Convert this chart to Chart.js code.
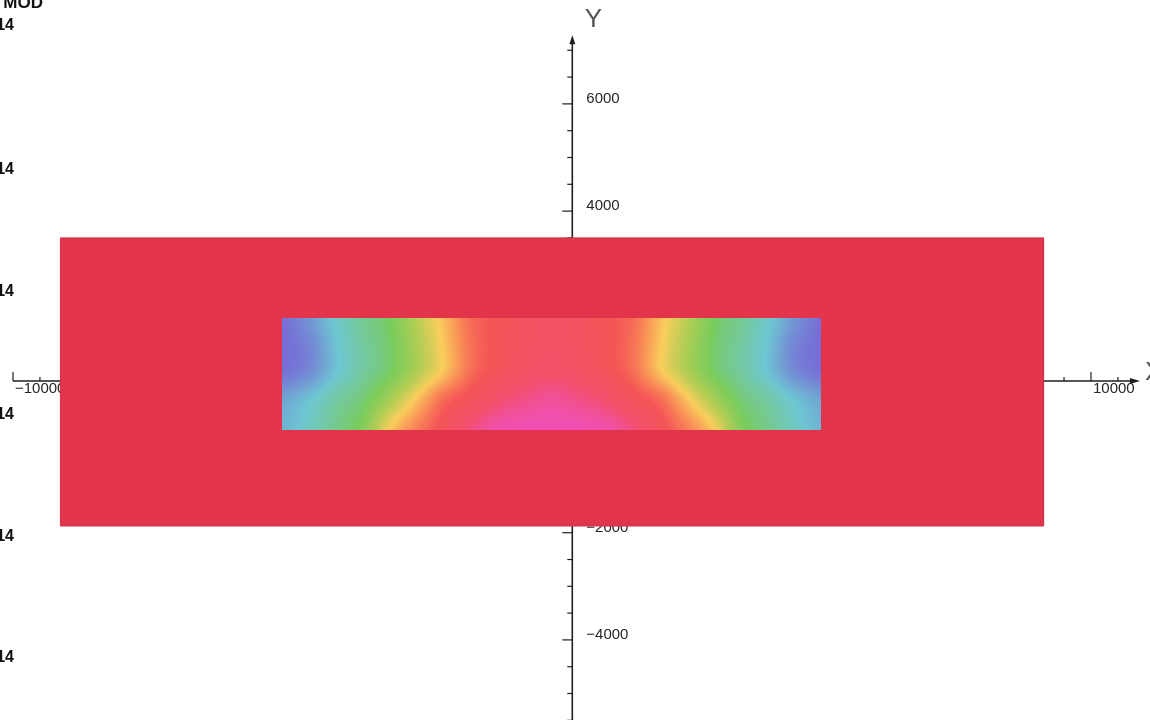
<!DOCTYPE html>
<html>
<head>
<meta charset="utf-8">
<script src="https://cdn.jsdelivr.net/npm/chart.js@4.4.1/dist/chart.umd.min.js"></script>
<style>
  html, body { margin: 0; padding: 0; background: #fff; overflow: hidden; }
  canvas { display: block; }
</style>
</head>
<body>
<canvas id="plot" width="1150" height="720"></canvas>
<script>
// ---- model geometry (model units) ----
const outerPlateX = [-9120, 9120];
const outerPlateY = [-1875, 3500];
const innerStripX = [-5000, 5000];
const innerStripY = [-90, 2000];

// ---- nodal solution on the inner strip, in contour-level units (0 = lowest band, 8 = highest) ----
const nodeX = [-5000, -4500, -4000, -3500, -3000, -2500, -2000, -1500, -1000, -500, 0,
               500, 1000, 1500, 2000, 2500, 3000, 3500, 4000, 4500, 5000];
const nodeY = [2000, 1400, 1000, 500, -90];
const levelsAtY2000 = [0.00, 0.45, 1.07, 1.54, 2.00, 3.10, 4.30, 5.60, 6.10, 6.40, 6.60, 6.40, 6.10, 5.60, 4.30, 3.10, 2.00, 1.54, 1.07, 0.45, 0.00];
const levelsAtY1400 = [0.00, 0.25, 0.95, 1.42, 1.90, 2.90, 4.10, 5.50, 6.15, 6.50, 6.75, 6.50, 6.15, 5.50, 4.10, 2.90, 1.90, 1.42, 0.95, 0.25, 0.00];
const levelsAtY1000 = [0.05, 0.35, 0.98, 1.45, 1.95, 3.00, 4.20, 5.60, 6.25, 6.65, 6.90, 6.65, 6.25, 5.60, 4.20, 3.00, 1.95, 1.45, 0.98, 0.35, 0.05];
const levelsAtY500  = [0.60, 0.95, 1.40, 1.80, 2.80, 4.15, 5.60, 6.30, 6.95, 7.35, 7.60, 7.35, 6.95, 6.30, 5.60, 4.15, 2.80, 1.80, 1.40, 0.95, 0.60];
const levelsAtYm90  = [0.80, 1.15, 1.60, 2.25, 4.05, 5.30, 6.30, 7.25, 7.90, 8.00, 8.00, 8.00, 7.90, 7.25, 6.30, 5.30, 4.05, 2.25, 1.60, 1.15, 0.80];
const nodalLevels = [levelsAtY2000, levelsAtY1400, levelsAtY1000, levelsAtY500, levelsAtYm90];

// ---- axis ticks ----
const yTickLabels = [-4000, -2000, 0, 2000, 4000, 6000];
const xTickLabels = [-10000, -5000, 0, 5000, 10000];
const minorStep = 500;

// ---- view window and axis placement ----
const VIEW_X = [-10241, 11095];
const VIEW_Y = [-5494, 7938];
const AXIS_AT_X = 377;   // vertical axis line sits at this X
const AXIS_AT_Y = 830;   // horizontal axis line sits at this Y

// contour band colours, lowest to highest
const bandColors = [
  [118, 110, 214],
  [110, 198, 210],
  [122, 204, 92],
  [178, 205, 84],
  [249, 205, 92],
  [249, 142, 86],
  [244, 86, 86],
  [242, 80, 108],
  [240, 80, 182]
];

const PLATE_FILL = '#E2354B';
const AXIS_COLOR = '#1e1e1e';
const TICK_FONT = '15px "Liberation Sans", Arial, sans-serif';

function fmt(v) {
  return v < 0 ? '\u2212' + Math.abs(v) : String(v);
}

function levelToRGB(L) {
  const n = bandColors.length - 1;
  L = Math.max(0, Math.min(n, L));
  const i = Math.min(n - 1, Math.floor(L));
  const t = L - i;
  const a = bandColors[i], b = bandColors[i + 1];
  return [a[0] + (b[0] - a[0]) * t, a[1] + (b[1] - a[1]) * t, a[2] + (b[2] - a[2]) * t];
}

function bracket(arr, v) {
  // index and fraction of v inside the monotonic node array
  const asc = arr[arr.length - 1] > arr[0];
  for (let k = 0; k < arr.length - 1; k++) {
    const lo = arr[k], hi = arr[k + 1];
    const inside = asc ? (v >= lo && v <= hi) : (v <= lo && v >= hi);
    if (inside) return [k, (v - lo) / (hi - lo)];
  }
  if (asc ? v < arr[0] : v > arr[0]) return [0, 0];
  return [arr.length - 2, 1];
}

function cubic(p0, p1, p2, p3, t) {
  return 0.5 * (2 * p1 + (p2 - p0) * t + (2 * p0 - 5 * p1 + 4 * p2 - p3) * t * t
                + (3 * p1 - p0 - 3 * p2 + p3) * t * t * t);
}

function rowValue(row, c, t) {
  const n = row.length - 1;
  const g = k => row[Math.max(0, Math.min(n, k))];
  return cubic(g(c - 1), g(c), g(c + 1), g(c + 2), t);
}

// smooth (bicubic) shading of the nodal values
function nodalAt(vx, vy) {
  const [c, tx] = bracket(nodeX, vx);
  const [r, ty] = bracket(nodeY, vy);
  const m = nodalLevels.length - 1;
  const rv = k => rowValue(nodalLevels[Math.max(0, Math.min(m, k))], c, tx);
  return cubic(rv(r - 1), rv(r), rv(r + 1), rv(r + 2), ty);
}

// Axes with minor/major ticks and labels, drawn under the plate
const axesPlugin = {
  id: 'axes',
  beforeDatasetsDraw(chart) {
    const ctx = chart.ctx;
    const xs = chart.scales.x, ys = chart.scales.y;
    const ax = xs.getPixelForValue(AXIS_AT_X);
    const ay = ys.getPixelForValue(AXIS_AT_Y);
    ctx.save();
    ctx.strokeStyle = AXIS_COLOR;
    ctx.fillStyle = AXIS_COLOR;

    // vertical axis
    const yTop = ys.getPixelForValue(7000) - 15;
    ctx.lineWidth = 1.6;
    ctx.beginPath();
    ctx.moveTo(ax, chart.height);
    ctx.lineTo(ax, yTop + 6);
    ctx.stroke();
    ctx.beginPath();
    ctx.moveTo(ax, yTop);
    ctx.lineTo(ax - 3, yTop + 9);
    ctx.lineTo(ax + 3, yTop + 9);
    ctx.closePath();
    ctx.fill();
    ctx.lineWidth = 1.2;
    for (let v = -5500; v <= 7000; v += minorStep) {
      const p = ys.getPixelForValue(v);
      const major = yTickLabels.includes(v);
      ctx.beginPath();
      ctx.moveTo(ax - (major ? 10 : 5), p);
      ctx.lineTo(ax, p);
      ctx.stroke();
    }
    ctx.font = TICK_FONT;
    ctx.fillStyle = '#262626';
    ctx.textAlign = 'left';
    ctx.textBaseline = 'middle';
    yTickLabels.forEach(v => {
      ctx.fillText(fmt(v), ax + 14, ys.getPixelForValue(v) - 5);
    });
    ctx.fillStyle = '#555';
    ctx.font = '26px "Liberation Sans", Arial, sans-serif';
    ctx.textAlign = 'center';
    ctx.fillText('Y', ax + 21, 20);

    // horizontal axis
    const xLeft = xs.getPixelForValue(-10000);
    const xTip = xs.getPixelForValue(10500) + 22;
    ctx.strokeStyle = AXIS_COLOR;
    ctx.fillStyle = AXIS_COLOR;
    ctx.lineWidth = 1.6;
    ctx.beginPath();
    ctx.moveTo(xLeft, ay);
    ctx.lineTo(xTip - 6, ay);
    ctx.stroke();
    ctx.beginPath();
    ctx.moveTo(xTip, ay);
    ctx.lineTo(xTip - 10, ay - 3);
    ctx.lineTo(xTip - 10, ay + 3);
    ctx.closePath();
    ctx.fill();
    ctx.lineWidth = 1.2;
    for (let v = -10000; v <= 10500; v += minorStep) {
      const p = xs.getPixelForValue(v);
      const major = xTickLabels.includes(v);
      ctx.beginPath();
      ctx.moveTo(p, ay);
      ctx.lineTo(p, ay - (major ? 9 : 4));
      ctx.stroke();
    }
    ctx.font = TICK_FONT;
    ctx.fillStyle = '#262626';
    ctx.textAlign = 'left';
    ctx.textBaseline = 'middle';
    xTickLabels.forEach(v => {
      ctx.fillText(fmt(v), xs.getPixelForValue(v) + 2, ay + 8);
    });
    ctx.fillStyle = '#555';
    ctx.font = '26px "Liberation Sans", Arial, sans-serif';
    ctx.fillText('X', xTip + 5, ay - 8);
    ctx.restore();
  }
};

// Smooth-shaded nodal field over the inner strip
const fieldPlugin = {
  id: 'nodalField',
  afterDatasetsDraw(chart) {
    const ctx = chart.ctx;
    const xs = chart.scales.x, ys = chart.scales.y;
    const px0 = Math.round(xs.getPixelForValue(innerStripX[0]));
    const px1 = Math.round(xs.getPixelForValue(innerStripX[1]));
    const py0 = Math.round(ys.getPixelForValue(innerStripY[1]));
    const py1 = Math.round(ys.getPixelForValue(innerStripY[0]));
    const w = px1 - px0, h = py1 - py0;
    const img = ctx.createImageData(w, h);
    for (let j = 0; j < h; j++) {
      const vy = ys.getValueForPixel(py0 + j + 0.5);
      for (let i = 0; i < w; i++) {
        const vx = xs.getValueForPixel(px0 + i + 0.5);
        const rgb = levelToRGB(nodalAt(vx, vy));
        const k = (j * w + i) * 4;
        img.data[k] = rgb[0];
        img.data[k + 1] = rgb[1];
        img.data[k + 2] = rgb[2];
        img.data[k + 3] = 255;
      }
    }
    ctx.putImageData(img, px0, py0);
  }
};

// Legend remnants along the left edge
const notesPlugin = {
  id: 'notes',
  afterDraw(chart) {
    const ctx = chart.ctx;
    ctx.save();
    ctx.fillStyle = '#111';
    ctx.textBaseline = 'alphabetic';
    ctx.font = 'bold 17px "Liberation Sans", Arial, sans-serif';
    ctx.textAlign = 'right';
    ctx.fillText('MOD', 43, 8);
    ctx.font = 'bold 16px "Liberation Sans", Arial, sans-serif';
    [30, 174, 296, 419, 541, 662].forEach(y => ctx.fillText('14', 14, y));
    ctx.restore();
  }
};

const plateOutline = [
  { x: outerPlateX[0], y: outerPlateY[1] },
  { x: outerPlateX[1], y: outerPlateY[1] },
  { x: outerPlateX[1], y: outerPlateY[0] },
  { x: outerPlateX[0], y: outerPlateY[0] },
  { x: outerPlateX[0], y: outerPlateY[1] }
];

new Chart(document.getElementById('plot').getContext('2d'), {
  type: 'scatter',
  data: {
    datasets: [{
      data: plateOutline,
      showLine: true,
      fill: 'shape',
      backgroundColor: PLATE_FILL,
      borderColor: '#CF3046',
      borderWidth: 1,
      pointRadius: 0,
      tension: 0
    }]
  },
  options: {
    responsive: false,
    animation: false,
    devicePixelRatio: 1,
    events: [],
    layout: { padding: 0 },
    plugins: { legend: { display: false }, tooltip: { enabled: false }, title: { display: false } },
    scales: {
      x: { type: 'linear', display: false, min: VIEW_X[0], max: VIEW_X[1] },
      y: { type: 'linear', display: false, min: VIEW_Y[0], max: VIEW_Y[1] }
    }
  },
  plugins: [axesPlugin, fieldPlugin, notesPlugin]
});
</script>
</body>
</html>
